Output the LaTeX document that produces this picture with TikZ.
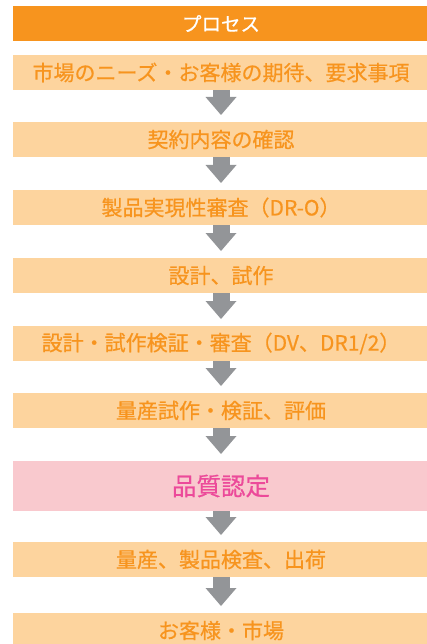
\documentclass[tikz,border=0pt]{standalone}
\usepackage{fontspec}
\setmainfont{Noto Sans CJK JP}[FakeBold=0.6]
\usetikzlibrary{positioning,arrows.meta}

\definecolor{procorange}{HTML}{F7941E}
\definecolor{stageorange}{HTML}{FDD49E}
\definecolor{stagepink}{HTML}{F9C9CE}
\definecolor{textpink}{HTML}{EC4A9A}
\definecolor{arrowgray}{HTML}{939598}

\tikzset{
  stage/.style={fill=stageorange, text=procorange, minimum width=416pt, minimum height=35pt,
    inner sep=0pt, outer sep=0pt, font=\fontsize{21}{24}\selectfont},
  header/.style={stage, fill=procorange, text=white, font=\fontsize{19.5}{22}\selectfont},
  milestone/.style={stage, fill=stagepink, text=textpink, minimum height=50pt,
    font=\fontsize{24.5}{28}\selectfont},
  flow/.style={draw=arrowgray, line width=17pt,
    -{Triangle[width=31pt,length=18pt,line width=0pt]}, shorten >=7pt}
}

\begin{document}
\begin{tikzpicture}[x=1pt,y=1pt]
\useasboundingbox (0,0) rectangle (427,-644);

\node[header] (proc) at (221,-23.5) {プロセス};
\node[stage, below=14pt of proc] (needs) {市場のニーズ・お客様の期待、要求事項};
\node[stage, below=32pt of needs] (contract) {契約内容の確認};
\node[stage, below=33pt of contract] (drzero) {製品実現性審査（DR-O）};
\node[stage, below=33pt of drzero] (design) {設計、試作};
\node[stage, below=33pt of design] (verify) {設計・試作検証・審査（DV、DR1/2）};
\node[stage, below=32pt of verify] (trial) {量産試作・検証、評価};
\node[milestone, below=33pt of trial] (quality) {品質認定};
\node[stage, below=31pt of quality] (mass) {量産、製品検査、出荷};
\node[stage, below=36pt of mass] (market) {お客様・市場};

\foreach \a/\b in {needs/contract, contract/drzero, drzero/design, design/verify,
  verify/trial, trial/quality, quality/mass, mass/market}
  \draw[flow] (\a.south) -- (\b.north);
\end{tikzpicture}
\end{document}
